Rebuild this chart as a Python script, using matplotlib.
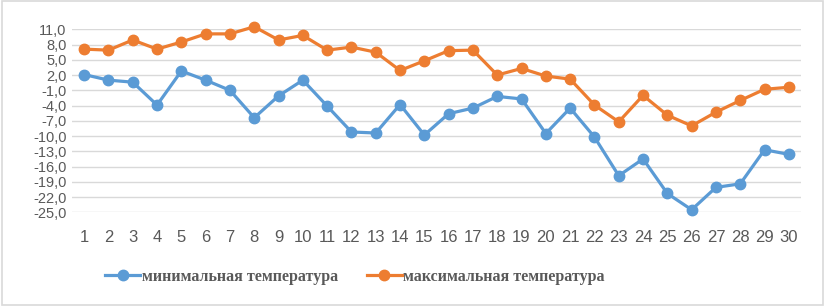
import matplotlib.pyplot as plt
from matplotlib.patches import Rectangle

# days of the month
days = list(range(1, 31))

# daily temperatures
t_min = [2.1, 1.0, 0.6, -3.9, 2.8, 1.0, -1.0, -6.4, -2.1, 1.0,
         -4.1, -9.2, -9.4, -3.8, -9.8, -5.6, -4.5, -2.2, -2.7, -9.5,
         -4.5, -10.2, -17.8, -14.5, -21.3, -24.5, -20.1, -19.4, -12.7, -13.6]
t_max = [7.1, 6.9, 8.9, 7.1, 8.5, 10.1, 10.1, 11.5, 8.9, 9.8,
         6.9, 7.5, 6.5, 2.9, 4.8, 6.8, 6.9, 2.0, 3.3, 1.8,
         1.2, -3.9, -7.2, -2.0, -5.9, -8.0, -5.3, -3.0, -0.8, -0.4]

y_ticks = list(range(-25, 12, 3))
names = ['минимальная температура', 'максимальная температура']

fig = plt.figure(figsize=(8.25, 3.06), dpi=100)
ax = fig.add_axes([72 / 825, 1 - 212.3 / 306, (801 - 72) / 825, (212.3 - 29.3) / 306])

ax.plot(days, t_min, color='#5B9BD5', lw=2.3, marker='o', ms=7.5, clip_on=False,
        label=names[0], zorder=3)
ax.plot(days, t_max, color='#ED7D31', lw=2.3, marker='o', ms=7.5, clip_on=False,
        label=names[1], zorder=3)

ax.set_xlim(0.5, 30.5)
ax.set_ylim(-25, 11)
ax.set_yticks(y_ticks)
ax.set_yticklabels([f'{v:.1f}'.replace('.', ',') for v in y_ticks],
                   fontsize=10.5, color='#595959', family='Liberation Sans')
ax.set_xticks(days)
ax.set_xticklabels([str(d) for d in days], fontsize=12, color='#595959',
                   family='Liberation Sans')
ax.tick_params(length=0)
ax.tick_params(axis='x', pad=13)
ax.tick_params(axis='y', pad=4)
ax.grid(axis='y', color='#D9D9D9', lw=1)
ax.set_axisbelow(True)
for s in ax.spines.values():
    s.set_visible(False)

leg = fig.legend(loc='center', bbox_to_anchor=(355 / 825, 1 - 277 / 306), ncol=2,
                 frameon=False, handlelength=2.2, handletextpad=0.1, columnspacing=1.8,
                 prop={'family': 'Liberation Serif', 'weight': 'bold', 'size': 11.5})
for t in leg.get_texts():
    t.set_color('#595959')

fig.patches.append(Rectangle((0.002, 0.004), 0.996, 0.992, transform=fig.transFigure,
                             fill=False, edgecolor='#D9D9D9', lw=1.2))

fig.savefig('out.png', dpi=100)
